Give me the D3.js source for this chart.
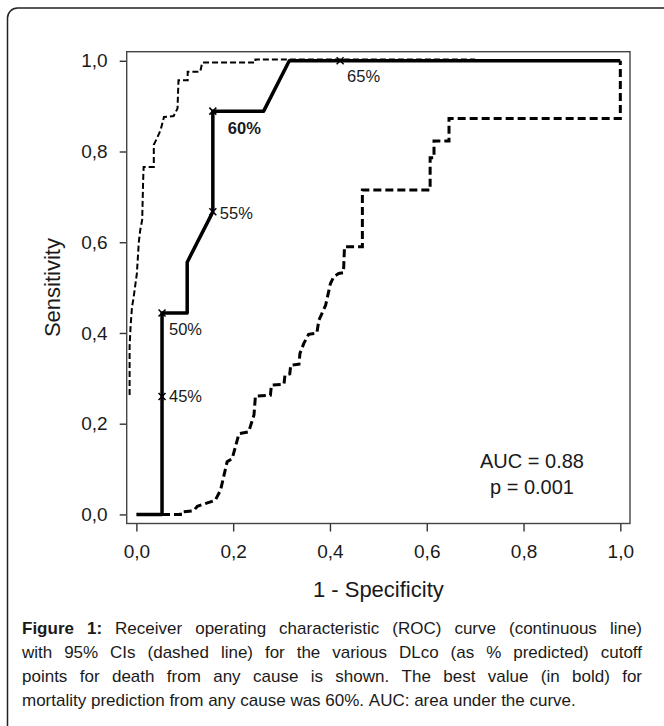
<!DOCTYPE html>
<html>
<head>
<meta charset="utf-8">
<script src="https://cdn.jsdelivr.net/npm/d3@7"></script>
<style>
  body { margin: 0; background: #fff; }
  text { font-family: "Liberation Sans", Arial, sans-serif; fill: #1a1a1a; }
</style>
</head>
<body>
<div id="chart"></div>
<script>
// ROC curve (continuous line)
var rocX = [0, 0.053, 0.053, 0.105, 0.105, 0.158, 0.158, 0.263, 0.316, 1.0]
var rocY = [0, 0, 0.444, 0.444, 0.556, 0.667, 0.889, 0.889, 1.0, 1.0]

// upper 95% CI (thin dashes)
var ciUpX = [-0.014, -0.014, -0.012, -0.009, -0.006, 0.001, 0.005, 0.008, 0.012, 0.014, 0.015, 0.036, 0.036, 0.043, 0.050, 0.057, 0.077, 0.085, 0.087, 0.106, 0.106, 0.132, 0.136, 0.246, 0.246, 0.70]
var ciUpY = [0.263, 0.370, 0.414, 0.458, 0.476, 0.531, 0.600, 0.627, 0.649, 0.737, 0.766, 0.766, 0.815, 0.830, 0.847, 0.876, 0.878, 0.895, 0.957, 0.957, 0.976, 0.976, 0.996, 0.996, 1.003, 1.003]

// lower 95% CI (thick dashes)
var ciLoX = [0.053, 0.091, 0.091, 0.118, 0.126, 0.163, 0.174, 0.1875, 0.198, 0.212, 0.232, 0.243, 0.246, 0.277, 0.279, 0.305, 0.307, 0.317, 0.319, 0.336, 0.338, 0.346, 0.356, 0.373, 0.377, 0.391, 0.395, 0.401, 0.408, 0.418, 0.428, 0.430, 0.467, 0.467, 0.607, 0.607, 0.615, 0.615, 0.646, 0.646, 1.0, 1.0]
var ciLoY = [0, 0, 0.005, 0.008, 0.018, 0.031, 0.054, 0.116, 0.123, 0.178, 0.182, 0.219, 0.261, 0.263, 0.285, 0.287, 0.307, 0.310, 0.329, 0.331, 0.355, 0.377, 0.397, 0.400, 0.428, 0.461, 0.480, 0.509, 0.524, 0.531, 0.533, 0.590, 0.590, 0.715, 0.715, 0.786, 0.786, 0.823, 0.823, 0.873, 0.873, 1.0]

// cutoff points marked on the curve
var cutLabels = ["45%", "50%", "55%", "60%", "65%"]
var cutX = [0.053, 0.053, 0.158, 0.158, 0.421]
var cutY = [0.26, 0.444, 0.667, 0.889, 1.0]
var cutBold = [false, false, false, true, false]

var tickVals = [0, 0.2, 0.4, 0.6, 0.8, 1.0]

var captionLines = [
    "Figure 1: Receiver operating characteristic (ROC) curve (continuous line)",
    "with 95% CIs (dashed line) for the various DLco (as % predicted) cutoff",
    "points for death from any cause is shown. The best value (in bold) for",
    "mortality prediction from any cause was 60%. AUC: area under the curve."
]

width = 664
height = 726

var svg = d3.select("#chart").append("svg")
    .attr("width", width).attr("height", height)

// figure frame, runs off the right and bottom edge
svg.append("rect")
    .attr("x", 7.5).attr("y", 8)
    .attr("width", 720).attr("height", 800)
    .attr("rx", 10)
    .attr("fill", "none")
    .attr("stroke", "#222")
    .attr("stroke-width", 1.5)

var box = { left: 126.7, right: 630, top: 51.7, bottom: 523.5 }

var x = d3.scaleLinear().domain([-0.02, 1.02]).range([box.left, box.right])
var y = d3.scaleLinear().domain([-0.02, 1.02]).range([box.bottom, box.top])

var comma = d3.formatLocale({ decimal: ",", thousands: ".", grouping: [3], currency: ["", ""] }).format(".1f")

// axes
var gx = svg.append("g")
    .attr("transform", "translate(0," + box.bottom + ")")
    .call(d3.axisBottom(x).tickValues(tickVals).tickFormat(comma).tickSize(8).tickPadding(13))
var gy = svg.append("g")
    .attr("transform", "translate(" + box.left + ",0)")
    .call(d3.axisLeft(y).tickValues(tickVals).tickFormat(comma).tickSize(7).tickPadding(12))
gx.select(".domain").remove()
gy.select(".domain").remove()
svg.selectAll(".tick line").attr("stroke", "#333").attr("stroke-width", 1.4)
svg.selectAll(".tick text").style("font-size", "19px").attr("fill", "#1a1a1a")

svg.append("rect")
    .attr("x", box.left).attr("y", box.top)
    .attr("width", box.right - box.left).attr("height", box.bottom - box.top)
    .attr("fill", "none").attr("stroke", "#444").attr("stroke-width", 1.4)

var line = d3.line()
    .x(function (d) { return x(d[0]) })
    .y(function (d) { return y(d[1]) })

// upper CI
svg.append("path")
    .datum(d3.zip(ciUpX, ciUpY))
    .attr("d", line)
    .attr("fill", "none").attr("stroke", "#000")
    .attr("stroke-width", 2).attr("stroke-dasharray", "6,3")

// lower CI
svg.append("path")
    .datum(d3.zip(ciLoX, ciLoY))
    .attr("d", line)
    .attr("fill", "none").attr("stroke", "#000")
    .attr("stroke-width", 3).attr("stroke-dasharray", "8,4")

// ROC
svg.append("path")
    .datum(d3.zip(rocX, rocY))
    .attr("d", line)
    .attr("fill", "none").attr("stroke", "#000")
    .attr("stroke-width", 3.5).attr("stroke-linejoin", "round")

// cutoff markers (small x)
var cuts = d3.zip(cutX, cutY, cutLabels, cutBold)
svg.selectAll("path.mark")
    .data(cuts).enter()
    .append("path").attr("class", "mark")
    .attr("d", function (d) {
        var cx = x(d[0]), cy = y(d[1]), s = 3.5
        return "M" + (cx - s) + "," + (cy - s) + "L" + (cx + s) + "," + (cy + s) +
            "M" + (cx - s) + "," + (cy + s) + "L" + (cx + s) + "," + (cy - s)
    })
    .attr("stroke", "#000").attr("stroke-width", 1.5)

svg.selectAll("text.cut")
    .data(cuts).enter()
    .append("text").attr("class", "cut")
    .attr("x", function (d, i) { return x(d[0]) + (i == 3 ? 15 : 7) })
    .attr("y", function (d, i) { return y(d[1]) + [6, 22, 7, 23, 21][i] })
    .style("font-size", "16.5px")
    .style("font-weight", function (d) { return d[3] ? "bold" : "normal" })
    .text(function (d) { return d[2] })

// AUC box text
svg.append("text").attr("x", 532).attr("y", 468).attr("text-anchor", "middle")
    .style("font-size", "20px").text("AUC = 0.88")
svg.append("text").attr("x", 532).attr("y", 494).attr("text-anchor", "middle")
    .style("font-size", "20px").text("p = 0.001")

// axis titles
svg.append("text")
    .attr("x", (box.left + box.right) / 2).attr("y", 597)
    .attr("text-anchor", "middle").style("font-size", "22px")
    .text("1 - Specificity")
svg.append("text")
    .attr("transform", "translate(60," + y(0.5) + ") rotate(-90)")
    .attr("text-anchor", "middle").style("font-size", "22px")
    .text("Sensitivity")

// caption, justified word by word
var capLeft = 22, capRight = 642, capSize = 17
captionLines.forEach(function (ln, i) {
    var words = ln.split(" ")
    var nodes = words.map(function (w, j) {
        return svg.append("text")
            .attr("y", 634 + i * 24)
            .style("font-size", capSize + "px")
            .style("font-weight", (i == 0 && j < 2) ? "bold" : "normal")
            .text(w)
    })
    var widths = nodes.map(function (n) { return n.node().getComputedTextLength() })
    var gap = capSize * 0.278
    if (i < captionLines.length - 1) gap = (capRight - capLeft - d3.sum(widths)) / (words.length - 1)
    var cx = capLeft
    nodes.forEach(function (n, j) { n.attr("x", cx); cx += widths[j] + gap })
})
</script>
</body>
</html>
